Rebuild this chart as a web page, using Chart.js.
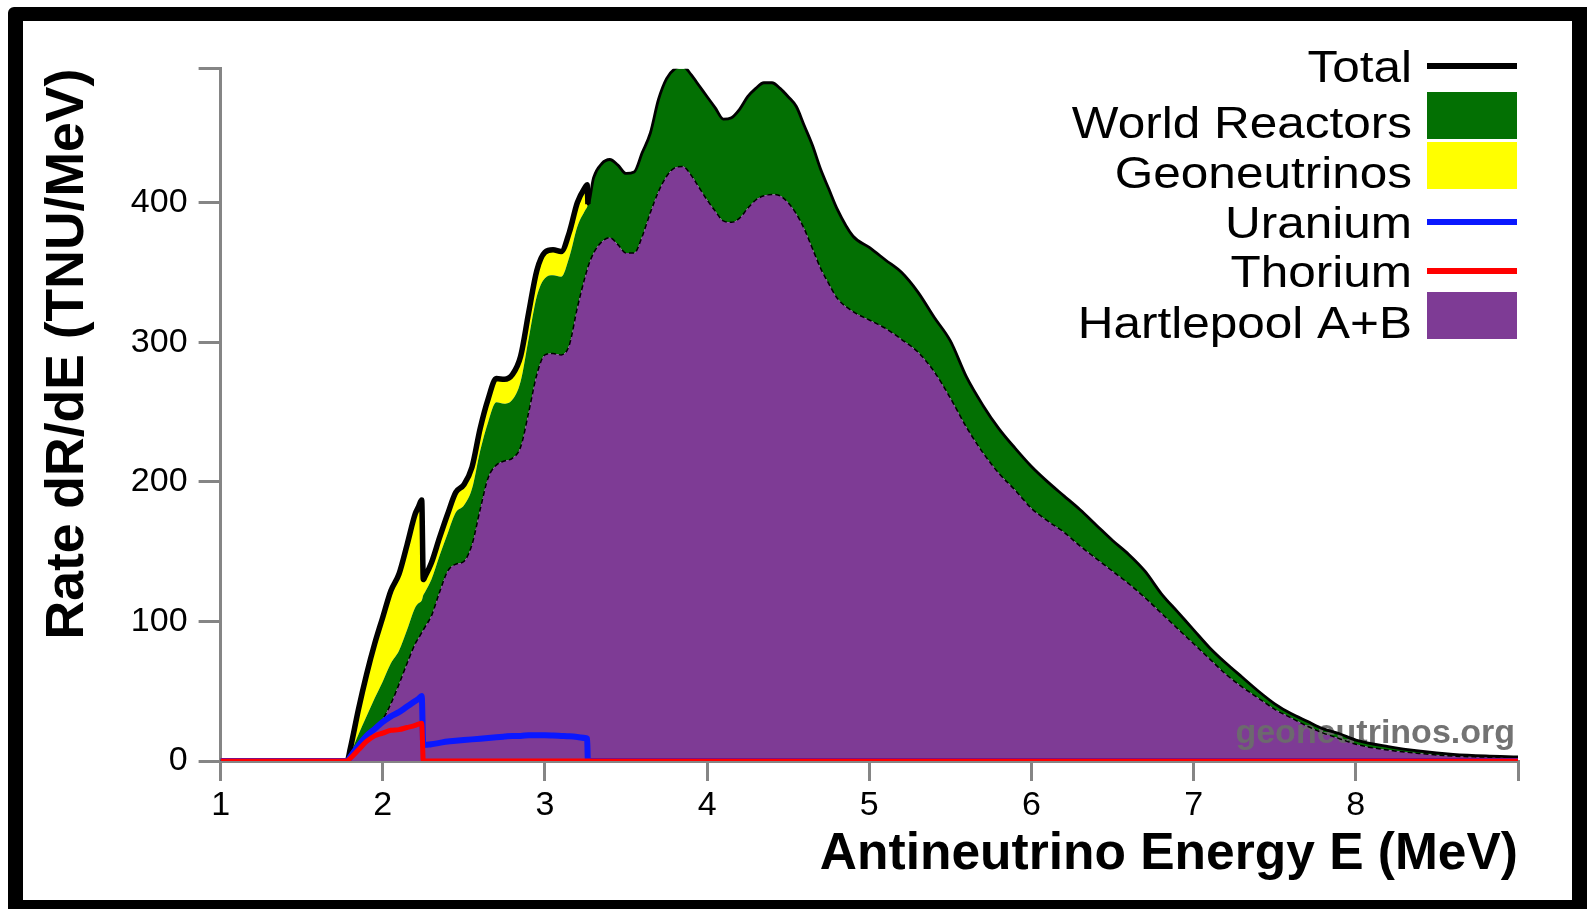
<!DOCTYPE html>
<html>
<head>
<meta charset="utf-8">
<title>Antineutrino spectrum</title>
<script src="https://cdn.jsdelivr.net/npm/chart.js@4.4.1/dist/chart.umd.min.js"></script>
<style>
  html, body { margin: 0; padding: 0; background: #fff; }
  body { width: 1587px; height: 909px; overflow: hidden; position: relative; }
  /* thick black frame around the whole figure */
  #frame {
    position: absolute; left: 8px; top: 7px; width: 1579px; height: 902px;
    box-sizing: border-box;
    border-style: solid; border-color: #000;
    border-width: 14px 15px 9px 15px;
    border-radius: 6px 0 0 0;
    background: #fff;
  }
  #wrap { position: absolute; left: 0; top: 0; width: 1549px; height: 879px; }
</style>
</head>
<body>
<div id="frame">
  <div id="wrap"><canvas id="spectrum" width="1549" height="879"></canvas></div>
</div>
<script>
// Antineutrino energy grid (MeV), shared by every series
const energy = [
  1.0, 1.78, 1.8, 1.85, 1.9, 1.95, 2.0, 2.05, 2.1, 2.15,
  2.2, 2.22, 2.24, 2.25, 2.26, 2.3, 2.35, 2.4, 2.45, 2.5,
  2.55, 2.6, 2.65, 2.7, 2.75, 2.8, 2.85, 2.9, 2.95, 3.0,
  3.05, 3.1, 3.15, 3.2, 3.25, 3.26, 3.265, 3.3, 3.35, 3.4,
  3.45, 3.5, 3.55, 3.6, 3.65, 3.7, 3.75, 3.8, 3.85, 3.9,
  3.95, 4.0, 4.05, 4.1, 4.15, 4.2, 4.25, 4.3, 4.35, 4.4,
  4.45, 4.5, 4.55, 4.6, 4.65, 4.7, 4.75, 4.8, 4.9, 5.0,
  5.1, 5.2, 5.3, 5.4, 5.5, 5.6, 5.7, 5.8, 5.9, 6.0,
  6.1, 6.2, 6.3, 6.4, 6.5, 6.6, 6.7, 6.8, 6.9, 7.0,
  7.1, 7.2, 7.3, 7.4, 7.5, 7.6, 7.7, 7.8, 7.9, 8.0,
  8.2, 8.4, 8.6, 8.8, 9.0
];

// Hartlepool A+B rate (TNU/MeV), bottom of the stack
const hartlepool = [
  0, 0, 4, 10, 17, 24, 30, 41, 55, 70,
  84, 88, 92, 94, 96, 104, 121, 136, 141, 143,
  155, 180, 203, 212, 215, 217, 225, 250, 277, 291,
  292, 291, 298, 325, 348, 352, 354, 364, 372, 375,
  370, 364, 364, 376, 393, 408, 419, 425, 426, 420,
  411, 402, 394, 387, 386, 389, 396, 402, 405, 406,
  405, 400, 392, 381, 367, 353, 342, 332, 322, 316,
  310, 302, 293, 279, 260, 239, 221, 206, 194, 181,
  172, 164, 154, 145, 136, 127, 117, 106, 95, 84,
  73, 62, 53, 45, 37, 31, 25, 20, 16, 12,
  7.8, 5.3, 3.5, 2.8, 2.5
];

// World reactors contribution, stacked on Hartlepool
const worldReactors = [
  0, 0, 1, 9, 15, 21, 27, 29, 24, 24,
  26, 25, 23, 25, 25, 26, 26, 27, 37, 40,
  40, 42, 40, 45, 41, 42, 47, 53, 56, 55,
  56, 56, 63, 58, 47, 45, 45, 54, 56, 56,
  57, 57, 58, 60, 57, 66, 70, 71, 72, 72,
  73, 74, 74, 73, 75, 78, 80, 80, 81, 80,
  77, 76, 77, 74, 74, 71, 68, 64, 54, 52,
  49, 48, 43, 39, 41, 36, 34, 32, 30, 30,
  28, 26, 26, 24, 22, 21, 19, 14, 12, 10,
  8, 8, 7, 5, 4, 3, 3.5, 3, 3.5, 3,
  2.5, 1.7, 1.3, 0.8, 0.5
];

// Geoneutrino contribution, top of the stack
const geoneutrinos = [
  0, 0, 4, 18, 30, 39, 46, 52, 55, 61,
  67, 69, 72, 11, 11, 12, 13, 14, 14.5, 15,
  15.5, 16, 16.5, 17, 17.5, 18, 18, 18.5, 18.5, 18.5,
  18.3, 18, 17.7, 17.2, 16.5, 16, 0, 0, 0, 0,
  0, 0, 0, 0, 0, 0, 0, 0, 0, 0,
  0, 0, 0, 0, 0, 0, 0, 0, 0, 0,
  0, 0, 0, 0, 0, 0, 0, 0, 0, 0,
  0, 0, 0, 0, 0, 0, 0, 0, 0, 0,
  0, 0, 0, 0, 0, 0, 0, 0, 0, 0,
  0, 0, 0, 0, 0, 0, 0, 0, 0, 0,
  0, 0, 0, 0, 0
];

// Uranium and thorium geoneutrino lines (not stacked)
const uranium = [
  0, 0, 3, 11, 18, 23, 28, 32, 35, 39,
  43, 44.5, 46.5, 11, 11.5, 12, 13, 14, 14.5, 15,
  15.5, 16, 16.5, 17, 17.5, 18, 18, 18.5, 18.5, 18.5,
  18.3, 18, 17.7, 17.2, 16.5, 16, 0, 0, 0, 0,
  0, 0, 0, 0, 0, 0, 0, 0, 0, 0,
  0, 0, 0, 0, 0, 0, 0, 0, 0, 0,
  0, 0, 0, 0, 0, 0, 0, 0, 0, 0,
  0, 0, 0, 0, 0, 0, 0, 0, 0, 0,
  0, 0, 0, 0, 0, 0, 0, 0, 0, 0,
  0, 0, 0, 0, 0, 0, 0, 0, 0, 0,
  0, 0, 0, 0, 0
];
const thorium = [
  0, 0, 2, 8, 14, 18, 20, 22, 22.5, 24,
  25.5, 26.5, 27, 0, 0, 0, 0, 0, 0, 0,
  0, 0, 0, 0, 0, 0, 0, 0, 0, 0,
  0, 0, 0, 0, 0, 0, 0, 0, 0, 0,
  0, 0, 0, 0, 0, 0, 0, 0, 0, 0,
  0, 0, 0, 0, 0, 0, 0, 0, 0, 0,
  0, 0, 0, 0, 0, 0, 0, 0, 0, 0,
  0, 0, 0, 0, 0, 0, 0, 0, 0, 0,
  0, 0, 0, 0, 0, 0, 0, 0, 0, 0,
  0, 0, 0, 0, 0, 0, 0, 0, 0, 0,
  0, 0, 0, 0, 0
];

// Axis ticks (the last tick of each axis carries no label)
const xTicks = [1, 2, 3, 4, 5, 6, 7, 8, 9];
const yTicks = [0, 100, 200, 300, 400, 496];
const xMax = 9;
const yMax = 496;

// Legend rows, top to bottom
const legendOrder = ['Total', 'World Reactors', 'Geoneutrinos', 'Uranium', 'Thorium', 'Hartlepool A+B'];

const FONT = "'Liberation Sans', Arial, Helvetica, sans-serif";
Chart.defaults.font.family = FONT;
Chart.defaults.color = '#000';

// The thick "Total" curve follows the stack top while geoneutrinos are present,
// and ends one grid point later, after the drop
const lastGeo = geoneutrinos.reduce((last, v, i) => (v > 0 ? i : last), 0);
const total = energy.map((e, i) =>
  i <= lastGeo + 1 ? hartlepool[i] + worldReactors[i] + geoneutrinos[i] : null);

// Custom legend: text on the left, swatch on the right
const sideLegend = {
  id: 'sideLegend',
  afterDraw(chart) {
    const ctx = chart.ctx;
    const baselines = [61, 117, 167, 217, 266, 317];
    const textRight = 1389, boxLeft = 1404, boxWidth = 90;
    ctx.save();
    ctx.font = '44px ' + FONT;
    ctx.textAlign = 'right';
    ctx.textBaseline = 'alphabetic';
    legendOrder.forEach((label, i) => {
      const ds = chart.data.datasets.find(d => d.label === label);
      const y = baselines[i];
      ctx.save();
      ctx.translate(textRight, y);
      ctx.scale(1.125, 1);
      ctx.fillStyle = '#000';
      ctx.fillText(label, 0, 0);
      ctx.restore();
      if (ds.fill) {
        ctx.fillStyle = ds.backgroundColor;
        ctx.fillRect(boxLeft, y - 46, boxWidth, 47);
      } else {
        ctx.strokeStyle = ds.borderColor;
        ctx.lineWidth = 6;
        ctx.beginPath();
        ctx.moveTo(boxLeft, y - 16);
        ctx.lineTo(boxLeft + boxWidth, y - 16);
        ctx.stroke();
      }
    });
    ctx.restore();
  }
};

// Site watermark, drawn after the fills and under the curves
const watermark = {
  id: 'watermark',
  beforeDatasetsDraw(chart) {
    const ctx = chart.ctx;
    const area = chart.chartArea;
    ctx.save();
    ctx.font = 'bold 34px ' + FONT;
    ctx.fillStyle = 'rgba(108,108,108,0.95)';
    ctx.textAlign = 'right';
    ctx.textBaseline = 'alphabetic';
    ctx.fillText('geoneutrinos.org', area.right - 3, area.bottom - 18);
    ctx.restore();
  }
};

const axisGray = '#858585';

const ctx = document.getElementById('spectrum').getContext('2d');
const spectrumChart = new Chart(ctx, {
  type: 'line',
  data: {
    labels: energy,
    datasets: [
      {
        label: 'Hartlepool A+B', data: hartlepool, stack: 'main', order: 0,
        fill: 'origin', backgroundColor: '#7e3b95',
        borderColor: '#000', borderWidth: 1.5, borderDash: [5, 3],
        cubicInterpolationMode: 'monotone'
      },
      {
        label: 'World Reactors', data: worldReactors, stack: 'main', order: 1,
        fill: '-1', backgroundColor: '#037003',
        borderColor: 'rgba(0,0,0,0)', borderWidth: 1,
        cubicInterpolationMode: 'monotone'
      },
      {
        label: 'Geoneutrinos', data: geoneutrinos, stack: 'main', order: 2,
        fill: '-1', backgroundColor: '#ffff00',
        borderColor: '#000', borderWidth: 2.8, borderJoinStyle: 'round',
        cubicInterpolationMode: 'monotone'
      },
      {
        label: 'Total', data: total, stack: 'total', order: -1,
        fill: false, borderColor: '#000', borderWidth: 5.5,
        borderJoinStyle: 'round', cubicInterpolationMode: 'monotone', spanGaps: false
      },
      {
        label: 'Uranium', data: uranium, stack: 'u', order: -2,
        fill: false, borderColor: '#0a18ff', borderWidth: 6,
        borderJoinStyle: 'round', cubicInterpolationMode: 'monotone'
      },
      {
        label: 'Thorium', data: thorium, stack: 'th', order: -3,
        fill: false, borderColor: '#ff0000', borderWidth: 5,
        borderJoinStyle: 'round', cubicInterpolationMode: 'monotone'
      }
    ]
  },
  options: {
    responsive: false,
    maintainAspectRatio: false,
    animation: false,
    events: [],
    layout: { padding: { left: 0, top: 47.8, right: 54, bottom: 0 } },
    elements: { point: { radius: 0 } },
    plugins: {
      legend: { display: false },
      tooltip: { enabled: false },
      filler: { drawTime: 'beforeDatasetsDraw', propagate: false }
    },
    scales: {
      x: {
        type: 'linear', min: xTicks[0], max: xMax,
        afterFit: s => { s.height = 139; },
        afterBuildTicks: s => { s.ticks = xTicks.map(v => ({ value: v })); },
        ticks: {
          callback: v => (v === xMax ? '' : v),
          font: { size: 34 }, color: '#000', padding: 4,
          maxRotation: 0, autoSkip: false
        },
        grid: { drawOnChartArea: false, drawTicks: true, tickLength: 20, color: axisGray, lineWidth: 3 },
        border: { display: true, color: axisGray, width: 3 },
        title: {
          display: true, text: 'Antineutrino Energy E (MeV)', align: 'end', color: '#000',
          font: { size: 51.5, weight: 'bold' }, padding: { top: 0, bottom: 14 }
        }
      },
      y: {
        type: 'linear', stacked: true, min: 0, max: yMax,
        afterFit: s => { s.width = 197.6; },
        afterBuildTicks: s => { s.ticks = yTicks.map(v => ({ value: v })); },
        ticks: {
          callback: v => (v === yMax ? '' : v),
          font: { size: 34 }, color: '#000', padding: 11, autoSkip: false
        },
        grid: { drawOnChartArea: false, drawTicks: true, tickLength: 22, color: axisGray, lineWidth: 3 },
        border: { display: true, color: axisGray, width: 3 },
        title: {
          display: true, text: 'Rate dR/dE (TNU/MeV)', align: 'end', color: '#000',
          font: { size: 53.5, weight: 'bold' }, padding: { top: 13, bottom: 0 }
        }
      }
    }
  },
  plugins: [watermark, sideLegend]
});
</script>
</body>
</html>
